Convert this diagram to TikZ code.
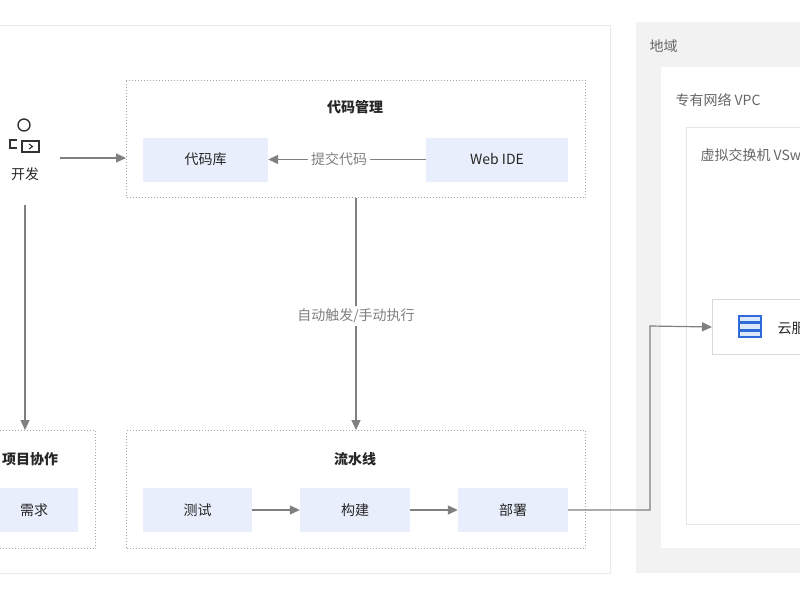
\documentclass[tikz,border=0pt]{standalone}
\usepackage{fontspec}
\setmainfont{Noto Sans CJK SC}
\usetikzlibrary{arrows.meta}
\definecolor{itemblue}{HTML}{E8EEFB}
\definecolor{srvblue}{HTML}{2F6BD8}
\definecolor{srvfill}{HTML}{DCE7FA}
\begin{document}
\begin{tikzpicture}[x=1pt,y=-1pt,
  panel/.style={draw=black!8,line width=0.8pt},
  grp/.style={draw=black!35,dotted,line width=1pt},
  item/.style={fill=itemblue,draw=none,minimum height=44pt,font=\fontsize{14}{16}\selectfont,text=black!85},
  ttl/.style={font=\fontsize{14}{16}\selectfont\bfseries,text=black!85},
  lbl/.style={font=\fontsize{14}{16}\selectfont,text=black!50,fill=white,inner sep=3pt},
  reg/.style={anchor=west,font=\fontsize{14}{16}\selectfont,text=black!60},
  arr/.style={-{Triangle[length=10pt,width=9pt]},draw=black!50,line width=1.2pt}]
\clip (0,0) rectangle (800,600);
\fill[white] (0,0) rectangle (800,600);
% left panel
\draw[panel] (-5,25) rectangle (610,573);
% right region
\fill[black!5] (636,22) rectangle (810,573);
\node[reg] (regt) at (646,46) {地域};
\fill[white] (661,67) rectangle (810,548);
\node[reg] (vpc) at (672,100) {专有网络 VPC};
\draw[draw=black!10,fill=white] (686,127) rectangle (810,524);
\node[reg] (vsw) at (697,155) {虚拟交换机 VSwitch};
\node[draw=black!15,fill=white,minimum height=55pt,minimum width=120pt,anchor=west] (ecs) at (712,327) {};
\foreach \i in {0,1,2}{\draw[draw=srvblue,fill=srvfill,line width=1.4pt] (739,{316+\i*7.5}) rectangle (761,{322+\i*7.5});}
\node[anchor=west,font=\fontsize{14}{16}\selectfont,text=black!85] (ecst) at (774,328) {云服务器 ECS};
% dev icon
\draw[black!80,line width=1.4pt] (24,125) circle (6);
\draw[black!80,line width=1.4pt] (17,148) -- (10,148) -- (10,140) -- (17,140);
\draw[black!80,line width=1.4pt] (22,141) rectangle (39,152);
\draw[black!80,line width=1.1pt] (29,144) -- (32.5,146.5) -- (29,149);
\node[font=\fontsize{14}{16}\selectfont,text=black!85] (dev) at (25,174) {开发};
\coordinate (devr) at (60,158);
\coordinate (devb) at (25,205);
% code management
\node[grp,minimum width=459pt,minimum height=117pt,anchor=north west] (cm) at (126,80) {};
\node[ttl] (cmt) at (355,107) {代码管理};
\node[item,minimum width=125pt] (repo) at (205.5,159.5) {代码库};
\node[item,minimum width=142pt] (ide) at (497,159.5) {Web IDE};
\draw[arr] (ide.west) -- (repo.east) node[lbl,pos=0.55] {提交代码};
\draw[arr] (devr) -- (cm.west|-devr);
% project collab
\node[grp,minimum width=105pt,minimum height=118pt,anchor=north west] (pc) at (-10,430) {};
\node[ttl] (pct) at (30,459) {项目协作};
\node[item,minimum width=88pt] (req) at (34,510) {需求};
\draw[arr] (devb) -- (devb|-pc.north);
% pipeline
\node[grp,minimum width=459pt,minimum height=118pt,anchor=north west] (pl) at (126,430) {};
\node[ttl] (plt) at (355,459) {流水线};
\node[item,minimum width=109pt] (test) at (197.5,510) {测试};
\node[item,minimum width=110pt] (build) at (355,510) {构建};
\node[item,minimum width=110pt] (dep) at (513,510) {部署};
\draw[arr] (test) -- (build);
\draw[arr] (build) -- (dep);
\draw[arr] (cm.south) -- (pl.north) node[lbl,pos=0.51] {自动触发/手动执行};
\draw[arr] (dep.east) -- (650,510) -- (650,326) -- (ecs.west);
\end{tikzpicture}
\end{document}
